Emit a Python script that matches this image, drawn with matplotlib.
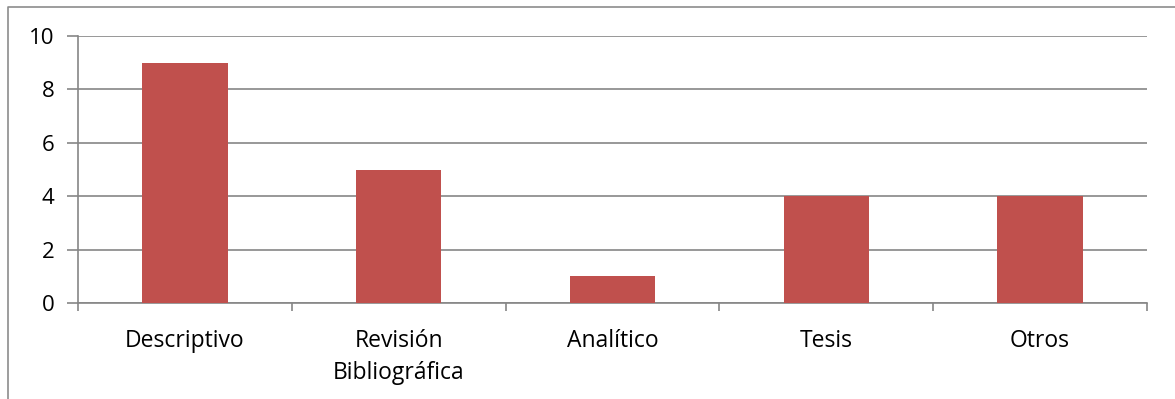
import matplotlib
matplotlib.use('Agg')
import matplotlib.pyplot as plt
from matplotlib.lines import Line2D
import numpy as np

plt.rcParams['font.family'] = ['Open Sans', 'DejaVu Sans']

categories = ['Descriptivo', 'Revisión\nBibliográfica', 'Analítico', 'Tesis', 'Otros']
values = [9, 5, 1, 4, 4]
yticks = [0, 2, 4, 6, 8, 10]

BAR_COLOR = '#C0504D'
GRID_COLOR = '#868686'

W, H = 1175, 399
fig = plt.figure(figsize=(W / 100, H / 100), dpi=100)
ax = fig.add_axes([78 / W, (H - 303) / H, 1069 / W, 267 / H])

x = np.arange(len(categories))
ax.bar(x, values, width=0.4, color=BAR_COLOR, zorder=3)

ax.set_xlim(-0.5, len(categories) - 0.5)
ax.set_ylim(0, 10)
ax.set_yticks(yticks)
ax.set_yticklabels([str(v) for v in yticks], fontsize=16)
ax.yaxis.grid(True, color=GRID_COLOR, linewidth=1.2, zorder=0)
ax.tick_params(axis='y', length=8, width=1.2, color=GRID_COLOR, pad=9)

# category labels + boundary ticks
ax.set_xticks(x)
ax.set_xticklabels(categories, fontsize=16.5, linespacing=1.45)
ax.tick_params(axis='x', length=0, pad=19)
ax.set_xticks(np.arange(len(categories) + 1) - 0.5, minor=True)
ax.tick_params(axis='x', which='minor', length=6, width=1.2, color=GRID_COLOR)

for side in ['top', 'right']:
    ax.spines[side].set_visible(False)
for side in ['left', 'bottom']:
    ax.spines[side].set_color(GRID_COLOR)
    ax.spines[side].set_linewidth(1.2)

# outer chart border
fig.add_artist(Line2D([8 / W, 8 / W, 1.0], [0.0, 1 - 7 / H, 1 - 7 / H],
                      transform=fig.transFigure, color='#8c8c8c', linewidth=1.2))

fig.savefig('out.png', dpi=100, facecolor='white')
